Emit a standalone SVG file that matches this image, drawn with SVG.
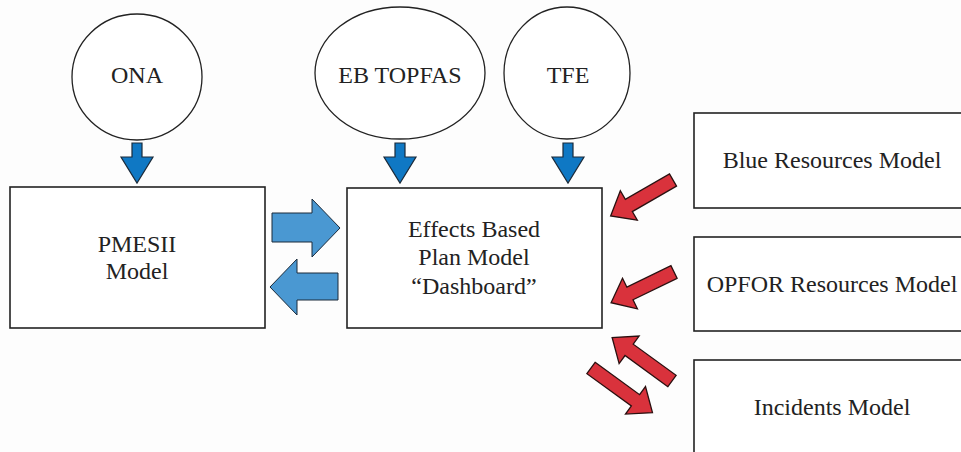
<svg xmlns="http://www.w3.org/2000/svg" width="961" height="452" viewBox="0 0 961 452">
<style>
.node{fill:#fff;stroke:#222;stroke-width:1.3}
.box{fill:#fff;stroke:#222;stroke-width:1.6}
.t{font-family:"Liberation Serif","Times New Roman",serif;font-size:24px;fill:#222;text-anchor:middle}
.down{fill:#0f78c4;stroke:#1a2a3a;stroke-width:1.2;stroke-linejoin:miter}
.side{fill:#4a98d2;stroke:#1a2a3a;stroke-width:1;stroke-linejoin:miter}
.red{fill:#d9323c;stroke:#2a1010;stroke-width:1.3;stroke-linejoin:miter}
</style>
<rect width="961" height="452" fill="#fdfdfd"/>
<g id="ona"><ellipse class="node" cx="137" cy="77" rx="65" ry="63"/><text class="t" x="137" y="83">ONA</text></g>
<g id="ebtopfas"><ellipse class="node" cx="400" cy="73" rx="85" ry="66"/><text class="t" x="400" y="83">EB TOPFAS</text></g>
<g id="tfe"><ellipse class="node" cx="567" cy="73" rx="63" ry="66"/><text class="t" x="568" y="83">TFE</text></g>
<g id="pmesii"><rect class="box" x="10" y="187" width="255" height="141"/><text class="t" x="137" y="252">PMESII</text><text class="t" x="137" y="279">Model</text></g>
<g id="ebp"><rect class="box" x="347" y="188" width="255" height="140"/><text class="t" x="474" y="237">Effects Based</text><text class="t" x="474" y="265">Plan Model</text><text class="t" x="474" y="294">“Dashboard”</text></g>
<g id="blue"><rect class="box" x="694" y="113" width="290" height="95"/><text class="t" x="832" y="168">Blue Resources Model</text></g>
<g id="opfor"><rect class="box" x="694" y="237" width="290" height="94"/><text class="t" x="832" y="292">OPFOR Resources Model</text></g>
<g id="incidents"><rect class="box" x="694" y="360" width="290" height="110"/><text class="t" x="832" y="415">Incidents Model</text></g>
<g id="connectors">
<path class="down" d="M132,143 H142 V157 H153 L137,183 L121,157 H132 Z"/>
<path class="down" d="M395,143 H405 V157 H416 L400,183 L384,157 H395 Z"/>
<path class="down" d="M563,143 H573 V157 H584 L568,183 L552,157 H563 Z"/>
<path class="side" d="M272,213 H312 V199 L340,228 L312,257 V242 H272 Z"/>
<path class="side" d="M338,273 H297 V259 L270,287 L297,315 V300 H338 Z"/>
<path class="red" transform="translate(673,180) rotate(150)" d="M0,-7 H51 V-17 L72,0 L51,17 V7 H0 Z"/>
<path class="red" transform="translate(674,272) rotate(154)" d="M0,-7 H49 V-17 L70,0 L49,17 V7 H0 Z"/>
<path class="red" transform="translate(672,381) rotate(-144)" d="M0,-7 H53 V-17 L74,0 L53,17 V7 H0 Z"/>
<path class="red" transform="translate(591,368) rotate(36)" d="M0,-7 H55 V-17 L76,0 L55,17 V7 H0 Z"/>
</g>
</svg>
